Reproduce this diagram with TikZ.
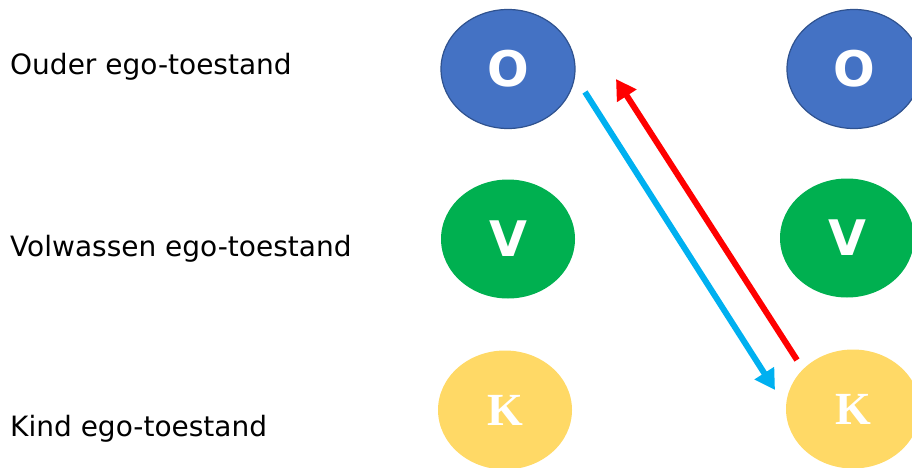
\documentclass[tikz,border=0pt]{standalone}
\usepackage{fontspec}
\setmainfont{DejaVu Sans}
\newfontfamily\letterfont{DejaVu Sans}
\newfontfamily\kfont{Liberation Serif}
\usetikzlibrary{arrows.meta,shapes.geometric}
\definecolor{ouderblue}{HTML}{4472C4}
\definecolor{ouderedge}{HTML}{2F528F}
\definecolor{volgreen}{HTML}{00B050}
\definecolor{kindyellow}{HTML}{FFD966}
\definecolor{arrowblue}{HTML}{00B0F0}
\definecolor{arrowred}{HTML}{FF0000}
\tikzset{
  state/.style={ellipse, minimum width=134pt, minimum height=119pt, inner sep=0pt, text=white},
  ostate/.style={state, fill=ouderblue, draw=ouderedge, line width=1.2pt, font=\letterfont\bfseries\fontsize{49}{49}\selectfont},
  vstate/.style={state, fill=volgreen, font=\letterfont\bfseries\fontsize{49}{49}\selectfont},
  kstate/.style={state, fill=kindyellow, font=\kfont\bfseries\fontsize{46}{46}\selectfont},
  label/.style={anchor=base west, inner sep=0pt, font=\fontsize{28}{28}\selectfont, text=black},
  transaction/.style={line width=6pt, -{Triangle[length=20pt, width=22pt]}},
}
\begin{document}
\begin{tikzpicture}[x=1pt, y=-1pt]
  \useasboundingbox (0,0) rectangle (912,468);
  % ego-state labels
  \node[label] (lo) at (10,75) {Ouder ego-toestand};
  \node[label] (lv) at (10,256) {Volwassen ego-toestand};
  \node[label] (lk) at (10,436) {Kind ego-toestand};
  % left person
  \node[ostate] (o1) at (508,69) {O};
  \node[vstate] (v1) at (508,239) {V};
  \node[kstate] (k1) at (505,410) {K};
  % right person
  \node[ostate] (o2) at (854,69) {O};
  \node[vstate] (v2) at (847,238) {V};
  \node[kstate] (k2) at (853,409) {K};
  % transactions
  \coordinate (bs) at (585,92);
  \coordinate (be) at (775,390);
  \coordinate (rs) at (797,360);
  \coordinate (re) at (616,79);
  \draw[transaction, arrowblue] (bs) -- (be);
  \draw[transaction, arrowred] (rs) -- (re);
\end{tikzpicture}
\end{document}
